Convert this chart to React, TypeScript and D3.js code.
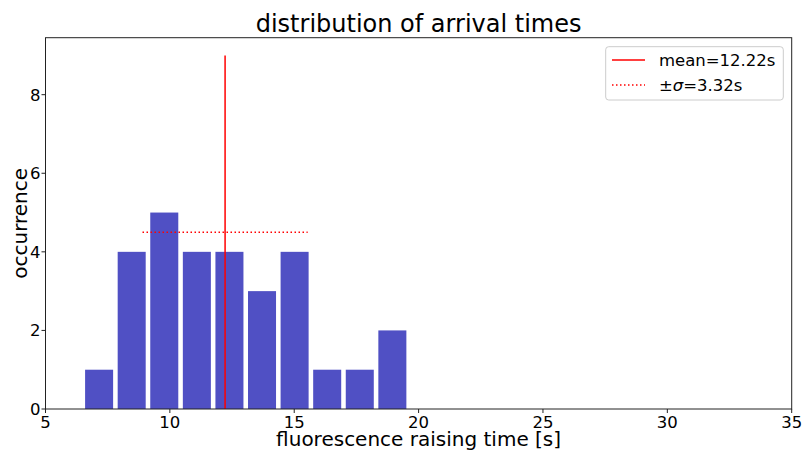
import React from "react";
import * as d3 from "d3";

const binStart = 6.5;
const binWidth = 1.31;
const counts = [1, 4, 5, 4, 4, 3, 4, 1, 1, 2];
const meanValue = 12.22;
const sigmaValue = 3.32;
const xTicks = [5, 10, 15, 20, 25, 30, 35];
const yTicks = [0, 2, 4, 6, 8];

const W = 805, H = 456;
const m = { left: 45.5, right: 791.7, top: 37.7, bottom: 409 };
const FONT = "DejaVu Sans, sans-serif";

export default function App() {
  const x = d3.scaleLinear().domain([5, 35]).range([m.left, m.right]);
  const y = d3.scaleLinear().domain([0, 9.45]).range([m.bottom, m.top]);
  const rw = 0.86;
  const bins = counts.map((c, i) => {
    const x0 = binStart + i * binWidth;
    return { x0, x1: x0 + binWidth, c };
  });
  const lo = meanValue - sigmaValue, hi = meanValue + sigmaValue;
  return (
    <svg width={W} height={H} style={{ position: "absolute", left: 0, top: 0, background: "#fff" }} fontFamily={FONT}>
      <rect x={0} y={0} width={W} height={H} fill="#fff" />
      {bins.map((b, i) => {
        const pad = (1 - rw) / 2 * binWidth;
        const xa = x(b.x0 + pad), xb = x(b.x1 - pad);
        return <rect key={i} x={xa} y={y(b.c)} width={xb - xa} height={y(0) - y(b.c)} fill="#5050c4" />;
      })}
      <line x1={x(meanValue)} x2={x(meanValue)} y1={y(0)} y2={y(9)} stroke="red" strokeWidth={1.5} />
      <line x1={x(lo)} x2={x(hi)} y1={y(4.5)} y2={y(4.5)} stroke="red" strokeWidth={1.5} strokeDasharray="1.5,2.5" />
      <rect x={m.left} y={m.top} width={m.right - m.left} height={m.bottom - m.top} fill="none" stroke="#222" strokeWidth={1} />
      {xTicks.map((t) => (
        <g key={t}>
          <line x1={x(t)} x2={x(t)} y1={m.bottom} y2={m.bottom + 4} stroke="#222" />
          <text x={x(t)} y={428} fontSize={16.5} textAnchor="middle" fill="#000">{t}</text>
        </g>
      ))}
      {yTicks.map((t) => (
        <g key={t}>
          <line x1={m.left - 4} x2={m.left} y1={y(t)} y2={y(t)} stroke="#222" />
          <text x={m.left - 5} y={y(t) + 6} fontSize={16.5} textAnchor="end" fill="#000">{t}</text>
        </g>
      ))}
      <text x={(m.left + m.right) / 2} y={32} fontSize={24} textAnchor="middle" fill="#000">distribution of arrival times</text>
      <text x={(m.left + m.right) / 2} y={446} fontSize={20} textAnchor="middle" fill="#000">fluorescence raising time [s]</text>
      <text transform={`translate(27,${(m.top + m.bottom) / 2}) rotate(-90)`} fontSize={20} textAnchor="middle" fill="#000">occurrence</text>
      <g>
        <rect x={605.7} y={46.7} width={177.6} height={53.3} rx={3} fill="#fff" fillOpacity={0.8} stroke="#ccc" />
        <line x1={612} x2={645} y1={60} y2={60} stroke="red" strokeWidth={1.5} />
        <text x={659} y={66} fontSize={16.5} fill="#000">mean=12.22s</text>
        <line x1={612} x2={645} y1={85} y2={85} stroke="red" strokeWidth={1.5} strokeDasharray="1.5,2.5" />
        <text x={659} y={91} fontSize={16.5} fill="#000">±<tspan fontStyle="italic">σ</tspan>=3.32s</text>
      </g>
    </svg>
  );
}
